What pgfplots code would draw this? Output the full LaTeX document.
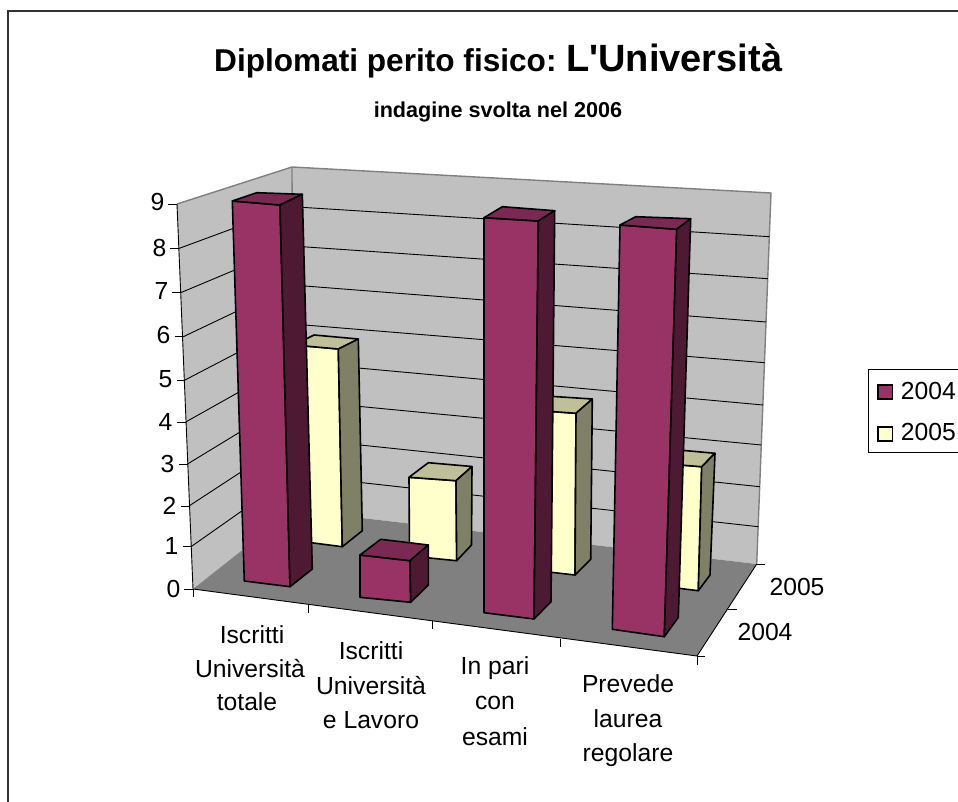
\documentclass[border=0pt]{standalone}
\usepackage{fontspec}
\setmainfont{Liberation Sans}
\usepackage{pgfplots}
\pgfplotsset{compat=1.18}
\definecolor{wall}{HTML}{C0C0C0}
\definecolor{floorc}{HTML}{808080}
\definecolor{mfront}{HTML}{993366}
\definecolor{mtop}{HTML}{7A2952}
\definecolor{mside}{HTML}{4D1933}
\definecolor{yfront}{HTML}{FFFFCC}
\definecolor{ytop}{HTML}{BFBF99}
\definecolor{yside}{HTML}{808066}
\newcommand{\lbl}{\fontsize{24.7bp}{29bp}\selectfont}
% one 3-D bar: front, top and side faces, vertices in picture coordinates
\newcommand{\onebar}[9]{%
 \addplot[fill=#1front,draw=black,line width=1.6bp,line join=round] coordinates {#3 #4 #5 #6} -- cycle;
 \addplot[fill=#1top,draw=black,line width=1.6bp,line join=round] coordinates {#3 #4 #8 #7} -- cycle;
 \addplot[fill=#1side,draw=black,line width=1.6bp,line join=round] coordinates {#4 #8 #9 #5} -- cycle;
}
\newcommand{\gridl}[1]{\addplot[black,line width=0.9bp] coordinates {#1};}
\begin{document}
\begin{tikzpicture}
\begin{axis}[
  scale only axis, width=958bp, height=802bp,
  xmin=0, xmax=958, ymin=0, ymax=802, y dir=reverse,
  hide axis, clip=false, no markers,
]
% chart frame
\addplot[black!80,line width=1.2bp] coordinates {(8,802) (8,11) (958,11)};
% walls and floor
\addplot[fill=wall,draw=none] coordinates {(177,204) (292,167) (293,510) (193,589)} -- cycle;
\addplot[fill=wall,draw=none] coordinates {(292,167) (771,193) (756.7,564) (293,510)} -- cycle;
\addplot[fill=floorc,draw=none] coordinates {(193,589) (293,510) (756.7,564) (697,656)} -- cycle;
\addplot[floorc,line width=1.4bp] coordinates {(177,204) (292,167) (771,193) (756.7,564)};
\addplot[floorc,line width=1.4bp] coordinates {(292,167) (293,510)};
% gridlines: value 8 ... 1
\gridl{(178.3,248.7) (292,206.7) (769.4,236.7)}
\gridl{(180.7,292.7) (292,246) (767.8,278.7)}
\gridl{(183.3,336.7) (292,285) (766.2,322)}
\gridl{(185,380) (292.5,324) (764.6,362.7)}
\gridl{(185.7,422) (292.5,362) (763,405)}
\gridl{(187.5,464) (292.5,400) (761.4,445)}
\gridl{(189,506) (293,438) (759.8,486.7)}
\gridl{(191,546.7) (293,475) (758.2,526.7)}
% axis lines and ticks
\addplot[black,line width=0.9bp] coordinates {(177,204) (193,589) (697,656) (756.7,564)};
\addplot[black,line width=0.9bp] coordinates {(168,204) (177,204)};
\addplot[black,line width=0.9bp] coordinates {(170,248.7) (178.3,248.7)};
\addplot[black,line width=0.9bp] coordinates {(172,292.7) (180.7,292.7)};
\addplot[black,line width=0.9bp] coordinates {(175,336.7) (183.3,336.7)};
\addplot[black,line width=0.9bp] coordinates {(177,380) (185,380)};
\addplot[black,line width=0.9bp] coordinates {(177,422) (185.7,422)};
\addplot[black,line width=0.9bp] coordinates {(179,464) (187.5,464)};
\addplot[black,line width=0.9bp] coordinates {(181,506) (189,506)};
\addplot[black,line width=0.9bp] coordinates {(183,546.7) (191,546.7)};
\addplot[black,line width=0.9bp] coordinates {(184,589) (193,589)};
\addplot[black,line width=0.9bp] coordinates {(193,589) (193,597)};
\addplot[black,line width=0.9bp] coordinates {(308,605) (308,613)};
\addplot[black,line width=0.9bp] coordinates {(432,621) (432,629)};
\addplot[black,line width=0.9bp] coordinates {(560,639) (560,647)};
\addplot[black,line width=0.9bp] coordinates {(697,656) (697,665)};
\addplot[black,line width=0.9bp] coordinates {(697,656) (705,656)};
\addplot[black,line width=0.9bp] coordinates {(728,609) (737,609)};
\addplot[black,line width=0.9bp] coordinates {(756.7,564) (765,564)};
% 2005 bars
\onebar{y}{}{(294,345)}{(338.3,349)}{(342.3,546.7)}{(298,541)}{(314,335)}{(358.3,339)}{(362.3,530.7)}
\onebar{y}{}{(409,477.3)}{(456,480.7)}{(456.7,560.7)}{(409.5,556)}{(428.3,462.7)}{(472,466.5)}{(471.5,545)}
\onebar{y}{}{(530,410)}{(576,413.3)}{(575,575)}{(531,570)}{(546,396)}{(592.3,399)}{(590.7,559.3)}
\onebar{y}{}{(655,463)}{(701.7,466.7)}{(698.3,590.7)}{(652,585)}{(668,449)}{(715,453.3)}{(710,575)}
% 2004 bars
\onebar{m}{}{(232.3,201)}{(280,205)}{(290,586.7)}{(244.3,581)}{(256.7,192.7)}{(302.3,194.3)}{(312.3,569)}
\onebar{m}{}{(360,555)}{(410,560.7)}{(410.7,602.3)}{(360,597.3)}{(380.7,539.3)}{(428.3,545)}{(428.3,585)}
\onebar{m}{}{(484,217.7)}{(538.3,221)}{(534,619)}{(484,612.7)}{(502.3,206.7)}{(554.7,210.7)}{(551,601.7)}
\onebar{m}{}{(620,225)}{(676.7,229.3)}{(664.3,636.7)}{(612.3,629.3)}{(635.7,216.7)}{(690.7,218.7)}{(678.3,617.3)}
% value labels
\node[anchor=east,font=\lbl] at (168,202) {9};
\node[anchor=east,font=\lbl] at (170,248) {8};
\node[anchor=east,font=\lbl] at (172,291) {7};
\node[anchor=east,font=\lbl] at (174,335) {6};
\node[anchor=east,font=\lbl] at (176,379) {5};
\node[anchor=east,font=\lbl] at (176,422) {4};
\node[anchor=east,font=\lbl] at (178,464) {3};
\node[anchor=east,font=\lbl] at (180,506) {2};
\node[anchor=east,font=\lbl] at (182,546) {1};
\node[anchor=east,font=\lbl] at (184,589) {0};
% category labels
\node[font=\lbl] at (252,635) {Iscritti};
\node[font=\lbl] at (250,669) {Università};
\node[font=\lbl] at (247,702) {totale};
\node[font=\lbl] at (371,651) {Iscritti};
\node[font=\lbl] at (371,686) {Università};
\node[font=\lbl] at (371,720) {e Lavoro};
\node[font=\lbl] at (495,668) {In pari};
\node[font=\lbl] at (495,703) {con};
\node[font=\lbl] at (495,737) {esami};
\node[font=\lbl] at (628,684) {Prevede};
\node[font=\lbl] at (628,719) {laurea};
\node[font=\lbl] at (628,755) {regolare};
\node[font=\lbl] at (797,587) {2005};
\node[font=\lbl] at (765,632) {2004};
% titles
\node[anchor=base west,inner sep=0pt,font=\fontsize{31.6bp}{36bp}\selectfont\bfseries] at (214,72) {Diplomati perito fisico:};
\node[anchor=base west,inner sep=0pt,font=\fontsize{38bp}{44bp}\selectfont\bfseries] at (566,72) {L\textquotesingle Università};
\node[font=\fontsize{21.6bp}{26bp}\selectfont\bfseries] at (498,111.5) {indagine svolta nel 2006};
% legend
\addplot[black,line width=1bp] coordinates {(958,369) (868,369) (868,452.7) (958,452.7)};
\addplot[fill=mfront,draw=black,line width=1.2bp] coordinates {(878,385) (892.7,385) (892.7,399) (878,399)} -- cycle;
\addplot[fill=yfront,draw=black,line width=1.2bp] coordinates {(878,427) (892.7,427) (892.7,441) (878,441)} -- cycle;
\node[anchor=west,inner sep=0pt,font=\lbl] at (900.7,391) {2004};
\node[anchor=west,inner sep=0pt,font=\lbl] at (900.7,432) {2005};
\end{axis}
\pgfresetboundingbox
\path[use as bounding box] (0,0) rectangle (958bp,802bp);
\end{tikzpicture}
\end{document}
